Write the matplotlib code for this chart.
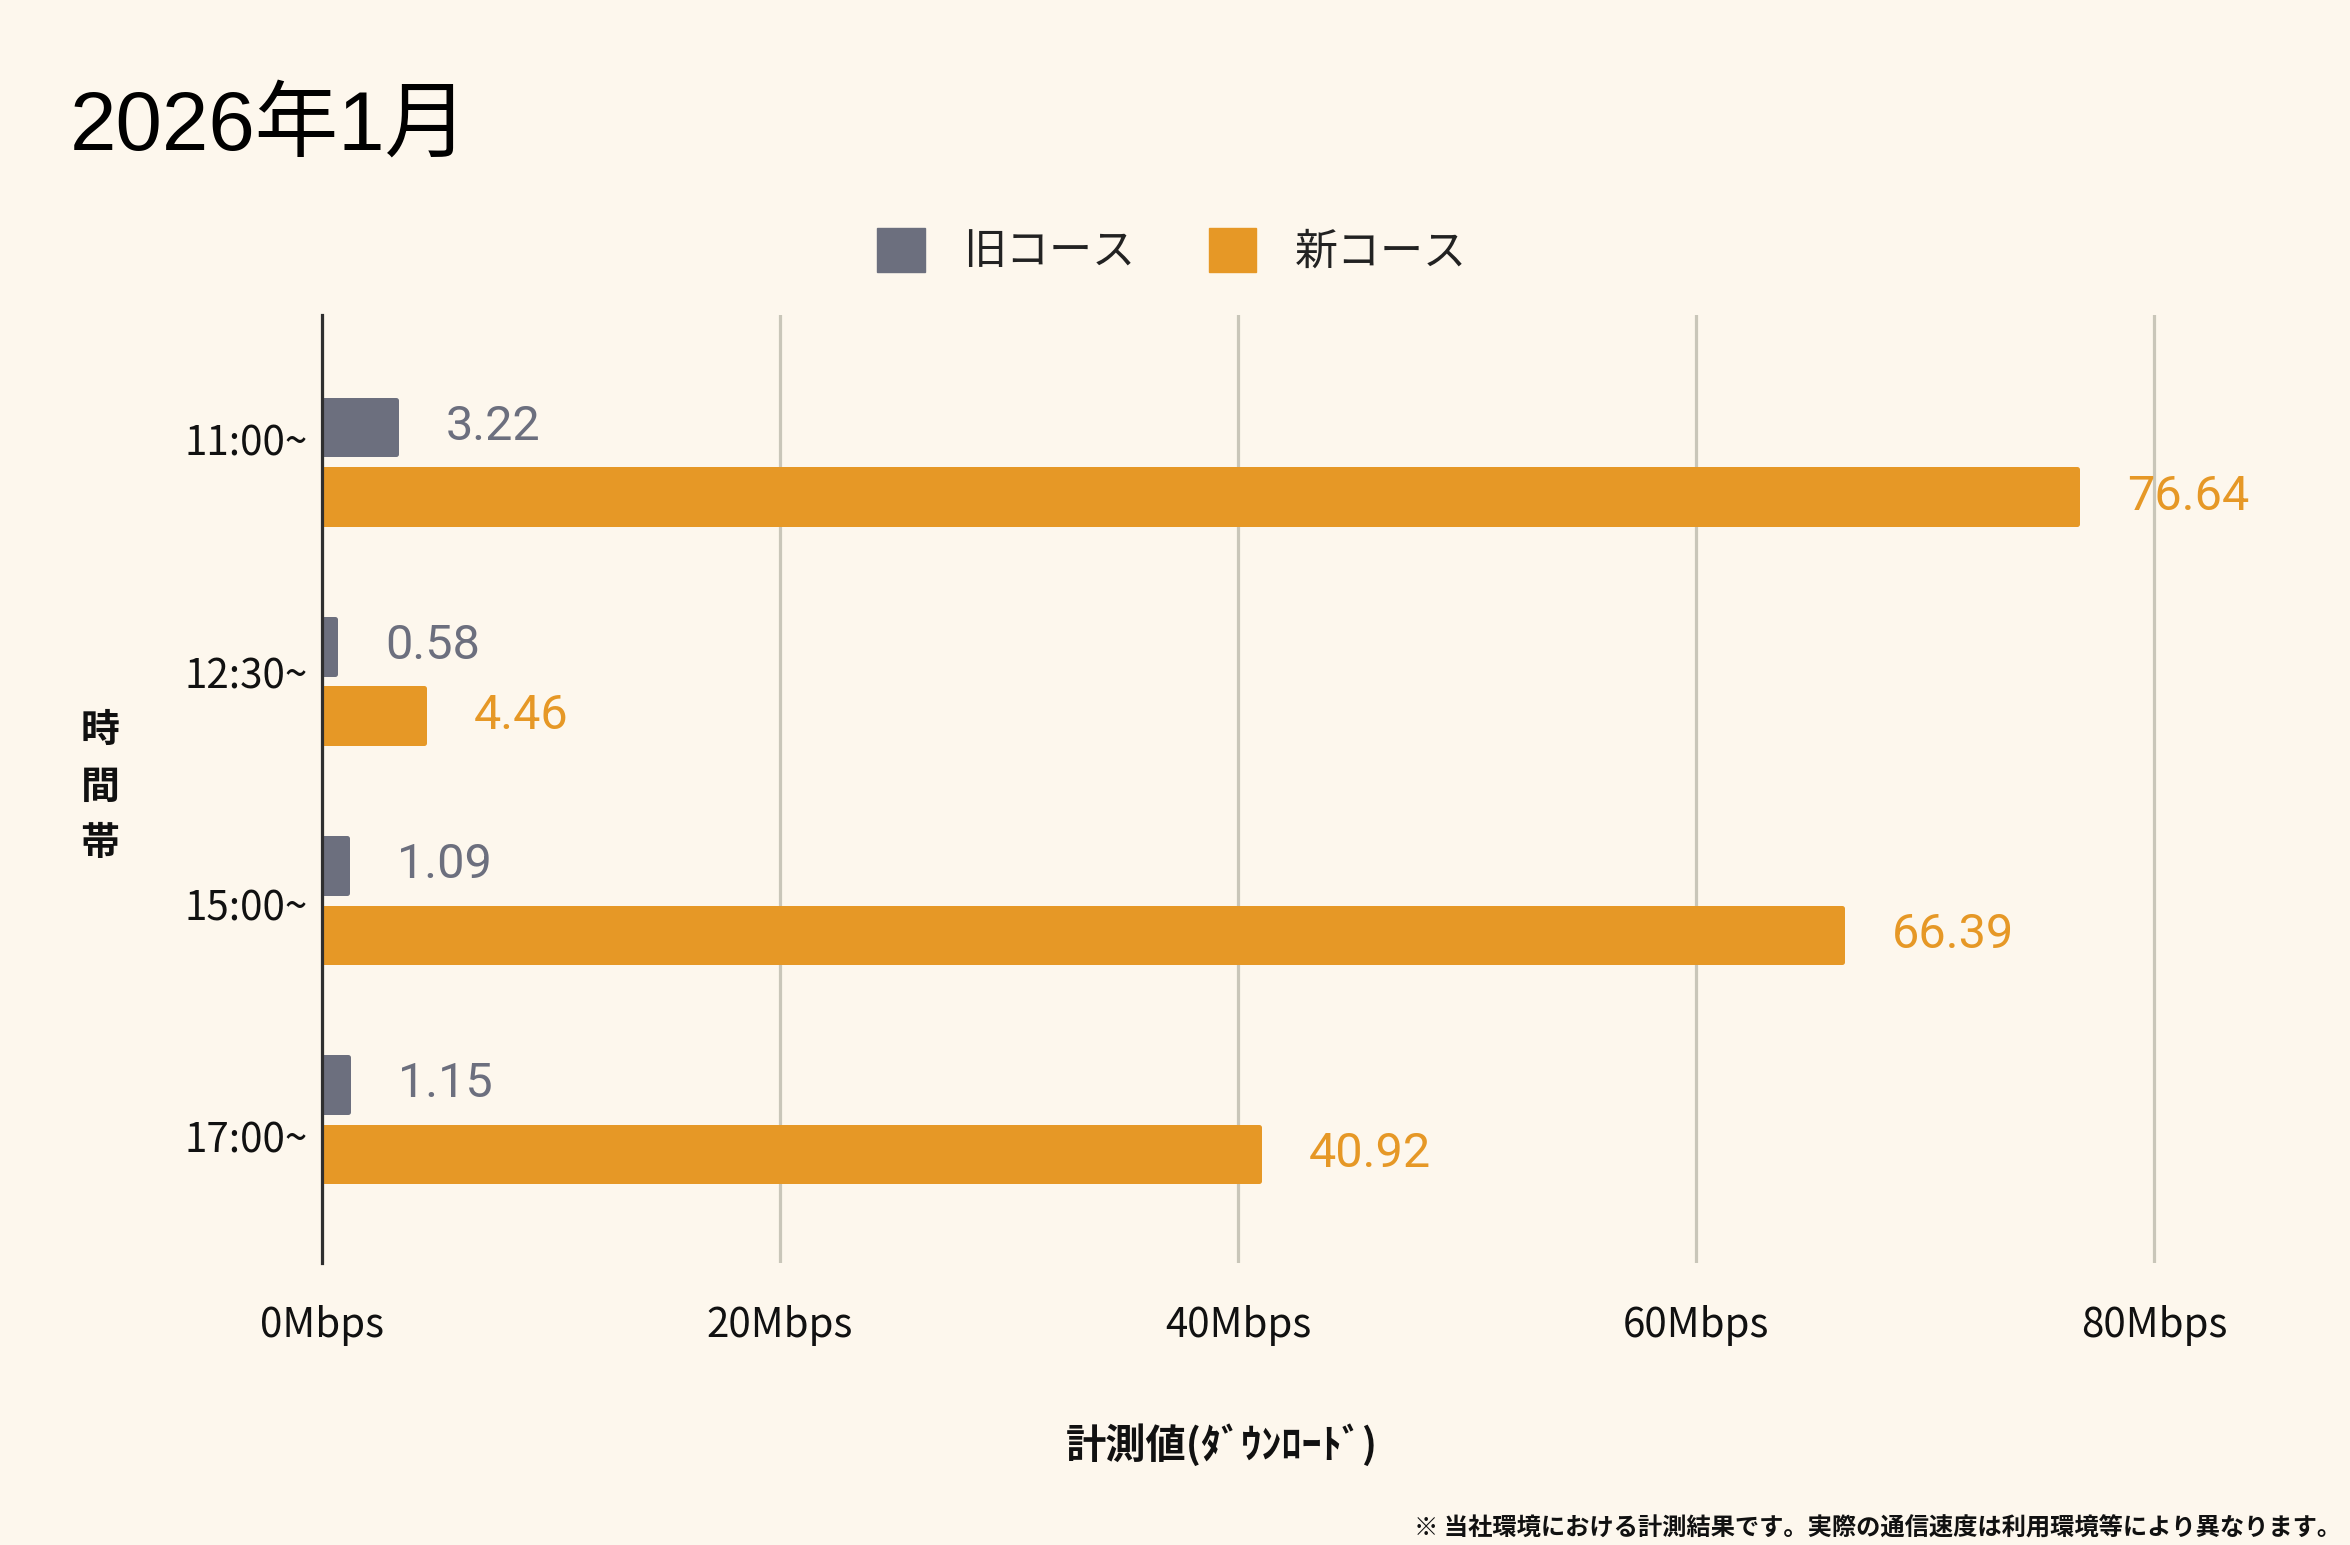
import numpy as np
import matplotlib
matplotlib.use("Agg")
import matplotlib.pyplot as plt
from matplotlib.patches import Patch

# data
times = ["11:00~", "12:30~", "15:00~", "17:00~"]
old_course = [3.22, 0.58, 1.09, 1.15]
new_course = [76.64, 4.46, 66.39, 40.92]
series_names = ["旧コース", "新コース"]
x_ticks = [0, 20, 40, 60, 80]
x_tick_labels = ["0Mbps", "20Mbps", "40Mbps", "60Mbps", "80Mbps"]

title = "2026年1月"
xlabel = "計測値(ﾀﾞｳﾝﾛｰﾄﾞ)"
ylabel = "時間帯"
note = "※ 当社環境における計測結果です。実際の通信速度は利用環境等により異なります。"

bg = "#fdf7ed"
gray = "#6c6f7e"
orange = "#e69826"
cjk = ["Noto Sans CJK JP", "DejaVu Sans"]

plt.rcParams["font.family"] = cjk

fig = plt.figure(figsize=(23.5, 15.45), dpi=100, facecolor=bg)
ax = fig.add_axes([322 / 2350, 1 - 1263 / 1545, (2250 - 322) / 2350, (1263 - 315) / 1545])
ax.set_facecolor(bg)

y = np.arange(len(times))
off = 0.159
h = 0.25
ax.barh(y - off, old_course, height=h, color=gray, edgecolor=gray,
        linewidth=3.6, joinstyle="round", zorder=3)
ax.barh(y + off, new_course, height=h, color=orange, edgecolor=orange,
        linewidth=3.6, joinstyle="round", zorder=3)

# value labels
for yi, v in zip(y - off, old_course):
    ax.annotate(f"{v:.2f}", xy=(v, yi), xytext=(36, 0), textcoords="offset points",
                va="center", ha="left", fontsize=35, color=gray, family="Roboto")
for yi, v in zip(y + off, new_course):
    ax.annotate(f"{v:.2f}", xy=(v, yi), xytext=(36, 0), textcoords="offset points",
                va="center", ha="left", fontsize=35, color=orange, family="Roboto")

ax.set_xlim(0, 84.2)
ax.set_ylim(3.656, -0.67)
# category labels sit a little spread out compared with the bar groups
ax.set_yticks(y * 1.06 - 0.1)
ax.set_yticklabels(times, fontsize=29, color="#111111")
ax.set_xticks(x_ticks)
ax.set_xticklabels(x_tick_labels, fontsize=29, color="#111111")
ax.tick_params(axis="both", length=0)
ax.tick_params(axis="x", pad=30)
ax.tick_params(axis="y", pad=10)

ax.grid(axis="x", color="#c9c6b9", linewidth=2.3, zorder=0)
for s in ["top", "right", "bottom"]:
    ax.spines[s].set_visible(False)
ax.spines["left"].set_color("#2f2f2f")
ax.spines["left"].set_linewidth(2.3)
ax.spines["left"].set_zorder(4)

# title, labels, note
fig.text(70 / 2350, 1 - 150 / 1545, title, fontsize=60, va="baseline", ha="left",
         family=["Liberation Sans", "Noto Sans CJK JP"], color="#000000")
fig.text(1222 / 2350, 1 - 1446 / 1545, xlabel, fontsize=29, fontweight="bold",
         ha="center", va="center", color="#111111")
fig.text(100 / 2350, 1 - 787 / 1545, "\n".join(ylabel), fontsize=28, fontweight="bold",
         ha="center", va="center", linespacing=1.55, color="#111111")
fig.text(2341 / 2350, 1 - 1529 / 1545, note, fontsize=17.5, fontweight="bold",
         ha="right", va="center", color="#111111")

# legend
handles = [Patch(facecolor=gray, edgecolor=gray), Patch(facecolor=orange, edgecolor=orange)]
leg = fig.legend(handles, series_names, loc="center", bbox_to_anchor=(1172 / 2350, 1 - 251 / 1545),
                 ncol=2, frameon=False, fontsize=31, handlelength=1.1, handleheight=1.2,
                 handletextpad=0.9, columnspacing=1.7, borderpad=0,
                 labelcolor="#222222")

fig.savefig("out.png", dpi=100, facecolor=bg)
